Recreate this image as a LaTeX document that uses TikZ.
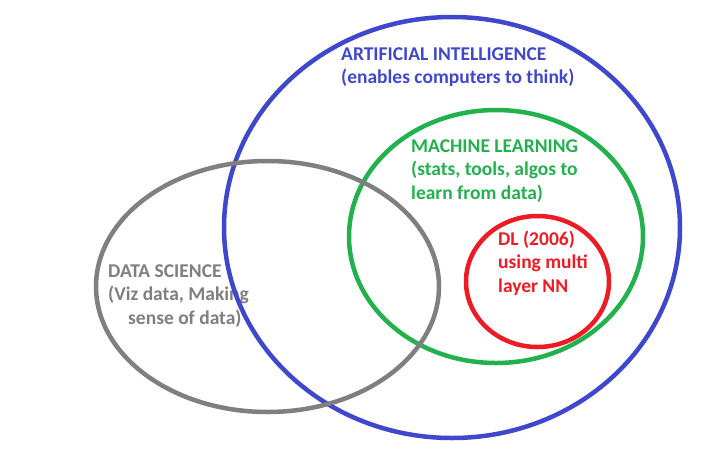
\documentclass[tikz,border=0pt]{standalone}
\usepackage{fontspec}
\setmainfont{Carlito}
\definecolor{aiblue}{RGB}{63,72,204}
\definecolor{mlgreen}{RGB}{34,177,76}
\definecolor{dlred}{RGB}{237,28,36}
\definecolor{dsgray}{RGB}{127,127,127}
\begin{document}
\begin{tikzpicture}[x=1pt,y=-1pt,
  ring/.style={line width=4.5pt},
  lbl/.style={anchor=base west,inner sep=0pt,font=\fontsize{19.5}{23.5}\selectfont\bfseries}]
\useasboundingbox[fill=white] (0,0) rectangle (723,456);
% Data science caption (sits beneath the AI ring)
\node[lbl,text=dsgray] (ds1) at (108,277) {DATA SCIENCE};
\node[lbl,text=dsgray] (ds2) at (108,300) {(Viz data, Making};
\node[lbl,text=dsgray] (ds3) at (128,324) {sense of data)};
% Nested rings
\draw[ring,aiblue] (452,227.5) ellipse [x radius=228, y radius=210.5];
\draw[ring,mlgreen] (496,236.5) ellipse [x radius=147, y radius=126.5];
\draw[ring,dlred] (537.5,281.5) ellipse [x radius=71.5, y radius=65.5];
\draw[ring,dsgray] (267.5,286.5) ellipse [x radius=171.5, y radius=125.5];
% Artificial intelligence
\node[lbl,text=aiblue] (ai1) at (341,60) {ARTIFICIAL INTELLIGENCE};
\node[lbl,text=aiblue] (ai2) at (341,83) {(enables computers to think)};
% Machine learning
\node[lbl,text=mlgreen] (ml1) at (411,152) {MACHINE LEARNING};
\node[lbl,text=mlgreen] (ml2) at (411,175.5) {(stats, tools, algos to};
\node[lbl,text=mlgreen] (ml3) at (411,199) {learn from data)};
% Deep learning
\node[lbl,text=dlred] (dl1) at (498,245) {DL (2006)};
\node[lbl,text=dlred] (dl2) at (498,268.5) {using multi};
\node[lbl,text=dlred] (dl3) at (498,292) {layer NN};
\end{tikzpicture}
\end{document}
